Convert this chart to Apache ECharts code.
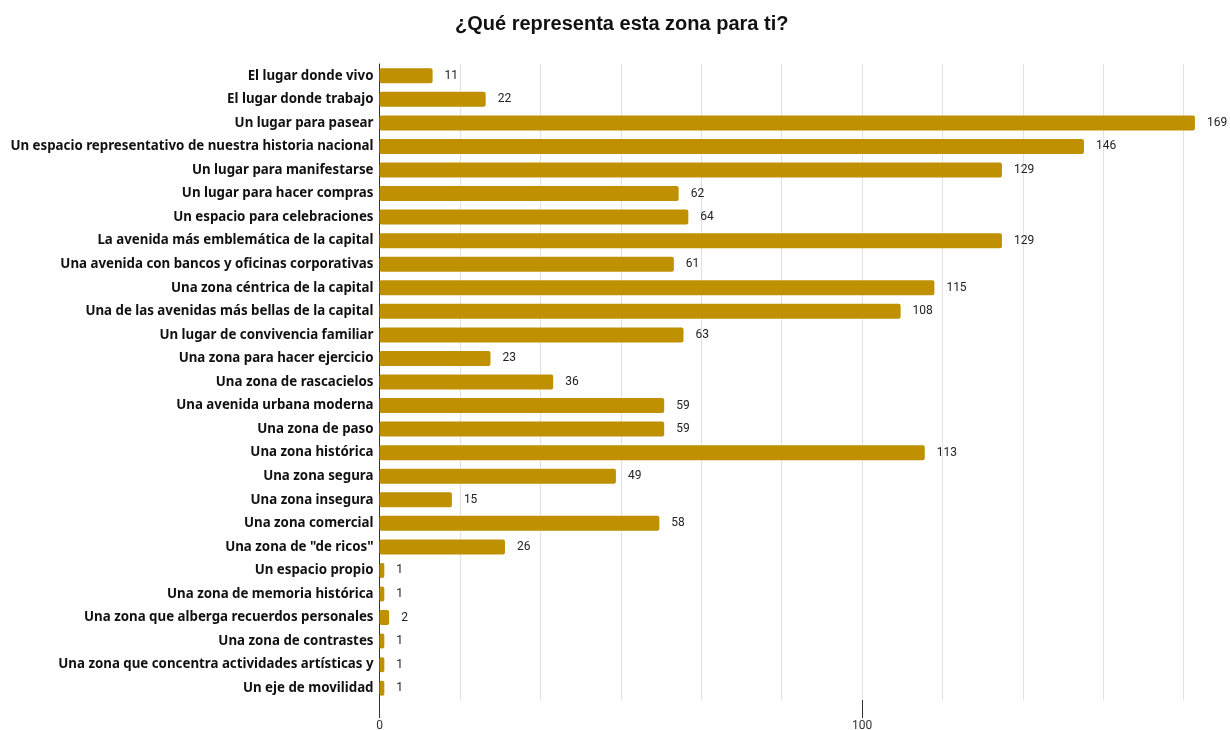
<!DOCTYPE html>
<html>
<head>
<meta charset="utf-8">
<script src="https://cdn.jsdelivr.net/npm/echarts@6/dist/echarts.min.js"></script>
<style>
  html, body { margin: 0; padding: 0; background: #fff; }
  #chart { width: 1230px; height: 730px; }
</style>
</head>
<body>
<div id="chart"></div>
<script>
const categories = [
  'El lugar donde vivo',
  'El lugar donde trabajo',
  'Un lugar para pasear',
  'Un espacio representativo de nuestra historia nacional',
  'Un lugar para manifestarse',
  'Un lugar para hacer compras',
  'Un espacio para celebraciones',
  'La avenida más emblemática de la capital',
  'Una avenida con bancos y oficinas corporativas',
  'Una zona céntrica de la capital',
  'Una de las avenidas más bellas de la capital',
  'Un lugar de convivencia familiar',
  'Una zona para hacer ejercicio',
  'Una zona de rascacielos',
  'Una avenida urbana moderna',
  'Una zona de paso',
  'Una zona histórica',
  'Una zona segura',
  'Una zona insegura',
  'Una zona comercial',
  'Una zona de "de ricos"',
  'Un espacio propio',
  'Una zona de memoria histórica',
  'Una zona que alberga recuerdos personales',
  'Una zona de contrastes',
  'Una zona que concentra actividades artísticas y',
  'Un eje de movilidad'
];
const counts = [11, 22, 169, 146, 129, 62, 64, 129, 61, 115, 108, 63, 23, 36, 59, 59, 113, 49, 15, 58, 26, 1, 1, 2, 1, 1, 1];

// value range: gridlines every 100/6, labelled ticks every 100
const axisMax = 1100 / 6;
const gridStep = 100 / 6;
const labelStep = 100;

const chart = echarts.init(document.getElementById('chart'));
chart.setOption({
  animation: false,
  title: {
    text: '¿Qué representa esta zona para ti?',
    left: 450,
    top: 9,
    textStyle: { fontFamily: 'Liberation Sans', fontWeight: 'bold', fontSize: 20, color: '#111' }
  },
  grid: { left: 379.5, top: 64, height: 636, width: 884.6, outerBoundsMode: 'none', containLabel: false },
  xAxis: [{
    // gridlines only
    type: 'value',
    min: 0,
    max: axisMax,
    interval: gridStep,
    axisLine: { show: false },
    axisTick: { show: false },
    axisLabel: { show: false },
    splitLine: { show: true, lineStyle: { color: '#e2e2e2', width: 1 } }
  }, {
    // labelled ticks at 0 and 100
    type: 'value',
    position: 'bottom',
    min: 0,
    max: axisMax,
    interval: labelStep,
    axisLine: { show: false },
    axisTick: { show: true, length: 18, lineStyle: { color: '#333', width: 1 } },
    axisLabel: {
      showMaxLabel: false,
      fontFamily: 'Roboto', fontSize: 12, color: '#333', margin: 20
    },
    splitLine: { show: false }
  }],
  yAxis: {
    type: 'category',
    data: categories,
    inverse: true,
    axisLine: { show: true, lineStyle: { color: '#333', width: 1 } },
    axisTick: { show: false },
    axisLabel: {
      fontFamily: 'Noto Sans', fontWeight: 'bold', fontSize: 13.3, color: '#111', margin: 6
    }
  },
  series: [{
    type: 'bar',
    xAxisIndex: 0,
    data: counts,
    barWidth: 15,
    itemStyle: { color: '#BF9000', borderRadius: 2 },
    label: {
      show: true, position: 'right', distance: 12,
      fontFamily: 'Roboto', fontSize: 12, color: '#222'
    }
  }]
});
</script>
</body>
</html>
